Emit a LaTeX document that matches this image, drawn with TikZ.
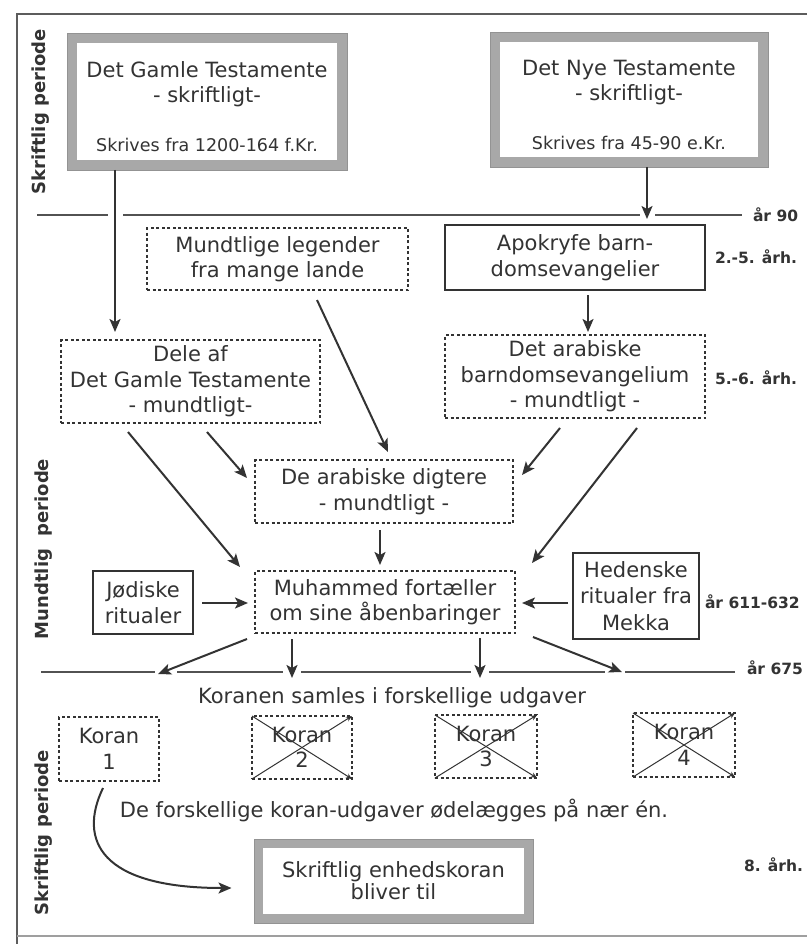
\documentclass[tikz,border=0pt]{standalone}
\usepackage{fontspec}
\setmainfont{DejaVu Sans}
\usetikzlibrary{arrows.meta}
\definecolor{ink}{HTML}{333333}
\begin{document}
\begin{tikzpicture}[x=1pt,y=-1pt,
  every node/.style={outer sep=0pt, text=ink},
  main/.style={font=\fontsize{21}{25.5}\selectfont, align=center},
  lab/.style={font=\bfseries\fontsize{15.5}{18}\selectfont, anchor=west, inner sep=0pt},
  per/.style={font=\bfseries\fontsize{18}{20}\selectfont, rotate=90, inner sep=0pt},
  dbox/.style={main, draw=ink, line width=1.1pt, dash pattern=on 3pt off 2.5pt, inner sep=0pt},
  sbox/.style={main, draw=ink, line width=1.2pt, inner sep=0pt},
  gbox/.style={main, draw=gray!68, line width=10pt, inner sep=0pt},
  gedge/.style={draw=gray!85, line width=0.7pt},
  arr/.style={draw=ink, line width=2pt, -{Stealth[length=13pt,width=11pt,inset=3pt]}},
  tline/.style={draw=ink!85, line width=2pt},
  xline/.style={draw=ink, line width=1pt, -{Stealth[length=6pt,width=5pt]}},
]
\useasboundingbox (0,0) rectangle (807,944);
\fill[white] (0,0) rectangle (807,944);

% frame
\draw[ink!80, line width=1.3pt] (807,14) -- (17,14) -- (17,944);
\draw[gray!75, line width=1.5pt] (17,936) -- (807,936);

% period labels
\node[per] (per1) at (41,112) {Skriftlig periode};
\node[per] (per2) at (44,549) {Mundtlig\ \ periode};
\node[per] (per3) at (44,833) {Skriftlig periode};

% top boxes
\node[gbox, minimum width=270pt, minimum height=127pt,
  label={[main, yshift=-5pt, name=ottxt]center:{Det Gamle Testamente\\- skriftligt-\\[23pt]{\fontsize{17.5}{21}\selectfont Skrives fra 1200-164 f.Kr.}}}] (ot) at (207,101.5) {};
\draw[gedge] ([shift={(-5,-5)}]ot.north west) rectangle ([shift={(5,5)}]ot.south east);
\node[gbox, minimum width=268pt, minimum height=125pt,
  label={[main, yshift=-5pt, name=nttxt]center:{Det Nye Testamente\\- skriftligt-\\[23pt]{\fontsize{17.5}{21}\selectfont Skrives fra 45-90 e.Kr.}}}] (nt) at (629,99.5) {};
\draw[gedge] ([shift={(-5,-5)}]nt.north west) rectangle ([shift={(5,5)}]nt.south east);

% timeline år 90
\coordinate (l90a) at (37,215);  \coordinate (l90b) at (108,215);
\coordinate (l90c) at (123,215); \coordinate (l90d) at (640,215);
\coordinate (l90e) at (655,215); \coordinate (l90f) at (742,215);
\draw[tline] (l90a) -- (l90b) (l90c) -- (l90d) (l90e) -- (l90f);
\coordinate (t90) at (647,219);

% oral-period boxes
\node[dbox, minimum width=261pt, minimum height=62pt] (leg) at (277.5,259) {Mundtlige legender\\fra mange lande};
\node[sbox, minimum width=260pt, minimum height=65pt] (apo) at (575,257.5) {Apokryfe barn-\\domsevangelier};
\node[dbox, minimum width=260pt, minimum height=83pt] (arab) at (575,376.5) {Det arabiske\\barndomsevangelium\\- mundtligt -};
\node[dbox, minimum width=259pt, minimum height=83pt] (dele) at (190.5,381.5) {Dele af\\Det Gamle Testamente\\- mundtligt-};
\node[dbox, minimum width=258pt, minimum height=63pt] (dig) at (384,491.5) {De arabiske digtere\\- mundtligt -};
\node[dbox, minimum width=260pt, minimum height=62pt] (muh) at (385,602) {Muhammed fortæller\\om sine åbenbaringer};
\node[sbox, minimum width=100pt, minimum height=63pt] (jod) at (143,602.5) {Jødiske\\ritualer};
\node[sbox, minimum width=126pt, minimum height=86pt, font=\fontsize{21}{26.5}\selectfont] (hed) at (636,596) {Hedenske\\ritualer fra\\Mekka};

% right labels
\node[lab] (y90) at (753,215) {år 90};
\node[lab] (c25) at (715,257) {2.-5. årh.};
\node[lab] (c56) at (715,378) {5.-6. årh.};
\node[lab] (y611) at (705,602) {år 611-632};
\node[lab] (y675) at (747,668) {år 675};
\node[lab, anchor=east] (c8) at (803,865) {8. årh.};

% timeline år 675
\draw[tline] (41,672) -- (155,672) (177,672) -- (283,672) (301,672) -- (471,672)
  (489,672) -- (605,672) (625,672) -- (735,672);
\coordinate (m1) at (158,674);
\coordinate (m2) at (292,678);
\coordinate (m3) at (480,678);
\coordinate (m4) at (622,672);

% arrows
\draw[arr] ([shift={(-92,5)}]ot.south) -- ([shift={(-75.5,-8)}]dele.north);
\draw[arr] ([shift={(18,5)}]nt.south) -- (t90);
\draw[arr] ([shift={(39.5,10)}]leg.south) -- ([shift={(4,-8)}]dig.north);
\draw[arr] ([shift={(13,5)}]apo.south) -- ([shift={(13,-3)}]arab.north);
\draw[arr] ([shift={(16.5,9)}]dele.south) -- ([shift={(-8,-13.5)}]dig.west);
\draw[arr] ([shift={(-62.5,9)}]dele.south) -- ([shift={(-15,-4)}]muh.north west);
\draw[arr] ([shift={(-15,10)}]arab.south) -- ([shift={(9,-16.5)}]dig.east);
\draw[arr] ([shift={(62,10)}]arab.south) -- ([shift={(17,-8)}]muh.north east);
\draw[arr] ([shift={(-4,7)}]dig.south) -- ([shift={(-5,-6)}]muh.north);
\draw[arr] ([shift={(9,0.5)}]jod.east) -- ([shift={(-7,1)}]muh.west);
\draw[arr] ([shift={(-5,7)}]hed.west) -- ([shift={(7,1)}]muh.east);
\draw[arr] ([shift={(-8,6)}]muh.south west) -- (m1);
\draw[arr] ([shift={(-93,6)}]muh.south) -- (m2);
\draw[arr] ([shift={(95,5)}]muh.south) -- (m3);
\draw[arr] ([shift={(18,4)}]muh.south east) -- (m4);

% written period
\node[main] (saml) at (392,698) {Koranen samles i forskellige udgaver};
\node[dbox, minimum width=100pt, minimum height=64pt] (k1) at (109,749) {Koran\\1};
\node[dbox, minimum width=100pt, minimum height=63pt] (k2) at (302,747.5) {Koran\\2};
\node[dbox, minimum width=102pt, minimum height=63pt] (k3) at (486,746.5) {Koran\\3};
\node[dbox, minimum width=102pt, minimum height=64pt] (k4) at (684,745) {Koran\\4};
\foreach \k in {k2,k3,k4}{
  \draw[xline] (\k.south west) -- (\k.north east);
  \draw[xline] (\k.north west) -- (\k.south east);
}
\node[main] (odel) at (394,810) {De forskellige koran-udgaver ødelægges på nær én.};
\node[gbox, line width=9pt, minimum width=270pt, minimum height=75pt, font=\fontsize{21}{22}\selectfont] (enh) at (393.5,881) {Skriftlig enhedskoran\\bliver til};
\draw[gedge] ([shift={(-4.5,-4.5)}]enh.north west) rectangle ([shift={(4.5,4.5)}]enh.south east);
\draw[arr] ([shift={(-6,7)}]k1.south) .. controls (78,840) and (100,888) .. ([shift={(-27,7)}]enh.west);
\end{tikzpicture}
\end{document}
